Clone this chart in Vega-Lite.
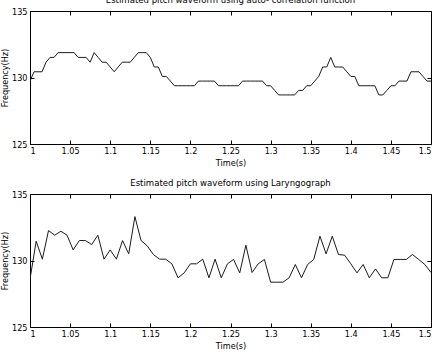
{
  "$schema": "https://vega.github.io/schema/vega-lite/v6.json",
  "padding": {"left": 0, "top": -6, "right": 0, "bottom": 0},
  "background": "white",
  "spacing": 9,
  "config": {
    "font": "Liberation Sans Narrow, DejaVu Sans Condensed, sans-serif",
    "view": {"stroke": "black", "strokeWidth": 1},
    "axis": {
      "domain": false, "grid": false, "tickColor": "black", "tickSize": -4, "tickWidth": 1,
      "labelColor": "black", "labelFontSize": 9, "titleColor": "black", "titleFontSize": 9,
      "titleFontWeight": "normal"
    },
    "title": {"fontSize": 9.5, "fontWeight": "normal", "color": "black", "offset": 3}
  },
  "datasets": {
    "auto": [
      {"t":1.000,"f":129.73},{"t":1.005,"f":130.43},{"t":1.010,"f":130.43},{"t":1.015,"f":130.43},{"t":1.020,"f":131.15},
      {"t":1.025,"f":131.51},{"t":1.030,"f":131.51},{"t":1.035,"f":131.87},{"t":1.040,"f":131.87},{"t":1.045,"f":131.87},
      {"t":1.050,"f":131.87},{"t":1.055,"f":131.87},{"t":1.060,"f":131.51},{"t":1.065,"f":131.51},{"t":1.070,"f":131.51},
      {"t":1.075,"f":131.15},{"t":1.080,"f":131.87},{"t":1.085,"f":131.51},{"t":1.090,"f":131.15},{"t":1.095,"f":131.15},
      {"t":1.100,"f":130.79},{"t":1.105,"f":130.43},{"t":1.110,"f":130.79},{"t":1.115,"f":131.15},{"t":1.120,"f":131.15},
      {"t":1.125,"f":131.15},{"t":1.130,"f":131.51},{"t":1.135,"f":131.87},{"t":1.140,"f":131.87},{"t":1.145,"f":131.87},
      {"t":1.150,"f":131.51},{"t":1.155,"f":130.79},{"t":1.160,"f":130.79},{"t":1.165,"f":130.08},{"t":1.170,"f":130.08},
      {"t":1.175,"f":129.73},{"t":1.180,"f":129.38},{"t":1.185,"f":129.38},{"t":1.190,"f":129.38},{"t":1.195,"f":129.38},
      {"t":1.200,"f":129.38},{"t":1.205,"f":129.38},{"t":1.210,"f":129.73},{"t":1.215,"f":129.73},{"t":1.220,"f":129.73},
      {"t":1.225,"f":129.73},{"t":1.230,"f":129.73},{"t":1.235,"f":129.38},{"t":1.240,"f":129.38},{"t":1.245,"f":129.38},
      {"t":1.250,"f":129.38},{"t":1.255,"f":129.38},{"t":1.260,"f":129.38},{"t":1.265,"f":129.73},{"t":1.270,"f":129.73},
      {"t":1.275,"f":129.73},{"t":1.280,"f":129.73},{"t":1.285,"f":129.73},{"t":1.290,"f":129.73},{"t":1.295,"f":129.38},
      {"t":1.300,"f":129.38},{"t":1.305,"f":129.03},{"t":1.310,"f":128.69},{"t":1.315,"f":128.69},{"t":1.320,"f":128.69},
      {"t":1.325,"f":128.69},{"t":1.330,"f":128.69},{"t":1.335,"f":129.03},{"t":1.340,"f":129.03},{"t":1.345,"f":129.38},
      {"t":1.350,"f":129.38},{"t":1.355,"f":129.73},{"t":1.360,"f":130.08},{"t":1.365,"f":130.79},{"t":1.370,"f":130.79},
      {"t":1.375,"f":131.51},{"t":1.380,"f":130.79},{"t":1.385,"f":130.79},{"t":1.390,"f":130.79},{"t":1.395,"f":130.43},
      {"t":1.400,"f":130.08},{"t":1.405,"f":130.08},{"t":1.410,"f":129.38},{"t":1.415,"f":129.38},{"t":1.420,"f":129.38},
      {"t":1.425,"f":129.38},{"t":1.430,"f":129.38},{"t":1.435,"f":128.69},{"t":1.440,"f":128.69},{"t":1.445,"f":129.03},
      {"t":1.450,"f":129.38},{"t":1.455,"f":129.38},{"t":1.460,"f":129.73},{"t":1.465,"f":129.73},{"t":1.470,"f":129.73},
      {"t":1.475,"f":130.43},{"t":1.480,"f":130.43},{"t":1.485,"f":130.43},{"t":1.490,"f":130.08},{"t":1.495,"f":129.73},
      {"t":1.500,"f":129.73}
    ],
    "laryn": [
      {"t":1.0000,"f":128.6},{"t":1.0077,"f":131.45},{"t":1.0154,"f":130.1},{"t":1.0231,"f":132.25},{"t":1.0308,"f":131.9},
      {"t":1.0385,"f":132.2},{"t":1.0462,"f":131.9},{"t":1.0538,"f":130.8},{"t":1.0615,"f":131.5},{"t":1.0692,"f":131.5},
      {"t":1.0769,"f":131.2},{"t":1.0846,"f":131.9},{"t":1.0923,"f":130.1},{"t":1.1000,"f":130.8},{"t":1.1077,"f":130.1},
      {"t":1.1154,"f":131.5},{"t":1.1231,"f":130.5},{"t":1.1308,"f":133.3},{"t":1.1385,"f":131.5},{"t":1.1462,"f":131.1},
      {"t":1.1538,"f":130.45},{"t":1.1615,"f":130.1},{"t":1.1692,"f":130.1},{"t":1.1769,"f":129.75},{"t":1.1846,"f":128.7},
      {"t":1.1923,"f":129.07},{"t":1.2000,"f":129.75},{"t":1.2077,"f":129.75},{"t":1.2154,"f":130.1},{"t":1.2231,"f":128.7},
      {"t":1.2308,"f":130.1},{"t":1.2385,"f":128.7},{"t":1.2462,"f":129.75},{"t":1.2538,"f":130.08},{"t":1.2615,"f":129.07},
      {"t":1.2692,"f":131.15},{"t":1.2769,"f":129.1},{"t":1.2846,"f":129.75},{"t":1.2923,"f":130.08},{"t":1.3000,"f":128.37},
      {"t":1.3077,"f":128.37},{"t":1.3154,"f":128.37},{"t":1.3231,"f":128.7},{"t":1.3308,"f":129.7},{"t":1.3385,"f":128.7},
      {"t":1.3462,"f":129.7},{"t":1.3538,"f":130.08},{"t":1.3615,"f":131.83},{"t":1.3692,"f":130.5},{"t":1.3769,"f":131.83},
      {"t":1.3846,"f":130.45},{"t":1.3923,"f":130.4},{"t":1.4000,"f":129.75},{"t":1.4077,"f":129.07},{"t":1.4154,"f":129.7},
      {"t":1.4231,"f":128.7},{"t":1.4308,"f":129.37},{"t":1.4385,"f":128.7},{"t":1.4462,"f":128.7},{"t":1.4538,"f":130.08},
      {"t":1.4615,"f":130.08},{"t":1.4692,"f":130.08},{"t":1.4769,"f":130.45},{"t":1.4846,"f":130.08},{"t":1.4923,"f":129.7},
      {"t":1.5000,"f":129.1}
    ]
  },
  "vconcat": [
    {
      "title": "Estimated pitch waveform using auto- correlation function",
      "width": 401, "height": 133,
      "data": {"name": "auto"},
      "layer": [
        {
          "mark": {"type": "line", "color": "#1a1a1a", "strokeWidth": 1, "clip": true},
          "encoding": {
            "x": {"field": "t", "type": "quantitative", "scale": {"domain": [1, 1.5], "nice": false, "zero": false},
                  "axis": {"values": [1,1.05,1.1,1.15,1.2,1.25,1.3,1.35,1.4,1.45,1.5], "format": "~g", "title": "Time(s)", "labelPadding": 6, "titlePadding": 3}},
            "y": {"field": "f", "type": "quantitative", "scale": {"domain": [125, 135], "nice": false, "zero": false},
                  "axis": {"values": [125,130,135], "title": "Frequency(Hz)", "labelPadding": 7, "titlePadding": 2}}
          }
        },
        {
          "mark": {"type": "line", "strokeOpacity": 0},
          "encoding": {
            "x": {"field": "t", "type": "quantitative", "scale": {"domain": [1, 1.5], "nice": false, "zero": false},
                  "axis": {"orient": "top", "values": [1,1.05,1.1,1.15,1.2,1.25,1.3,1.35,1.4,1.45,1.5], "labels": false, "title": null}},
            "y": {"field": "f", "type": "quantitative", "scale": {"domain": [125, 135], "nice": false, "zero": false},
                  "axis": {"orient": "right", "values": [125,130,135], "labels": false, "title": null}}
          }
        }
      ],
      "resolve": {"axis": {"x": "independent", "y": "independent"}}
    },
    {
      "title": "Estimated pitch waveform using Laryngograph",
      "width": 401, "height": 133,
      "data": {"name": "laryn"},
      "layer": [
        {
          "mark": {"type": "line", "color": "#1a1a1a", "strokeWidth": 1, "clip": true},
          "encoding": {
            "x": {"field": "t", "type": "quantitative", "scale": {"domain": [1, 1.5], "nice": false, "zero": false},
                  "axis": {"values": [1,1.05,1.1,1.15,1.2,1.25,1.3,1.35,1.4,1.45,1.5], "format": "~g", "title": "Time(s)", "labelPadding": 6, "titlePadding": 3}},
            "y": {"field": "f", "type": "quantitative", "scale": {"domain": [125, 135], "nice": false, "zero": false},
                  "axis": {"values": [125,130,135], "title": "Frequency(Hz)", "labelPadding": 7, "titlePadding": 2}}
          }
        },
        {
          "mark": {"type": "line", "strokeOpacity": 0},
          "encoding": {
            "x": {"field": "t", "type": "quantitative", "scale": {"domain": [1, 1.5], "nice": false, "zero": false},
                  "axis": {"orient": "top", "values": [1,1.05,1.1,1.15,1.2,1.25,1.3,1.35,1.4,1.45,1.5], "labels": false, "title": null}},
            "y": {"field": "f", "type": "quantitative", "scale": {"domain": [125, 135], "nice": false, "zero": false},
                  "axis": {"orient": "right", "values": [125,130,135], "labels": false, "title": null}}
          }
        }
      ],
      "resolve": {"axis": {"x": "independent", "y": "independent"}}
    }
  ]
}
